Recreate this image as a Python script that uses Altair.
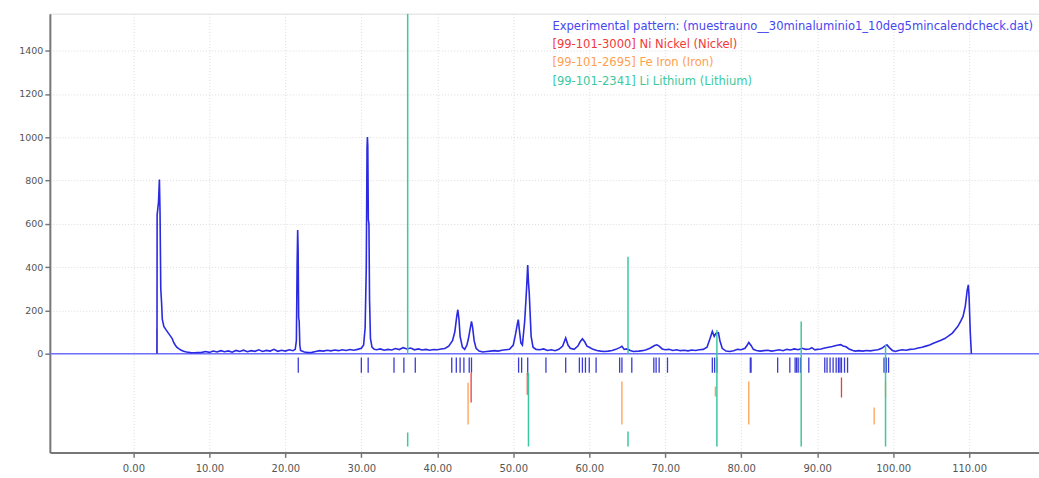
import altair as alt
import pandas as pd

# ---------------- data ----------------
PATTERN_2THETA = [
    3.10, 3.12, 3.30, 3.42, 3.50, 3.60, 3.70, 3.80, 4.0, 4.3, 4.6, 4.9, 5.1, 5.3, 5.5, 5.7, 6.0, 6.3, 6.6, 7.0,
    7.5, 8.0, 8.5, 9.0, 9.5, 10.0, 10.5, 11.0, 11.5, 12.0, 12.5, 13.0, 13.5, 14.0, 14.5, 15.0, 15.5, 16.0, 16.5,
    17.0, 17.5, 18.0, 18.5, 19.0, 19.5, 20.0, 20.5, 21.0, 21.3,
    21.45, 21.55, 21.62, 21.68, 21.75, 21.82, 21.9, 22.0,
    22.5, 23.0, 23.5, 24.0, 24.5, 25.0, 25.5, 26.0, 26.5, 27.0, 27.5, 28.0, 28.5, 29.0, 29.5, 30.0,
    30.3, 30.5, 30.65, 30.75, 30.8, 30.85, 30.92, 31.0, 31.08, 31.2, 31.4, 31.7,
    32.0, 32.5, 33.0, 33.5, 34.0, 34.5, 35.0, 35.5, 36.0, 36.5, 37.0, 37.5, 38.0, 38.5, 39.0, 39.5, 40.0,
    40.5, 41.0, 41.5, 42.0,
    42.3, 42.55, 42.7, 42.85, 43.0, 43.3, 43.6, 43.9,
    44.1, 44.3, 44.5, 44.65, 44.85, 45.1, 45.5, 46.0, 46.5, 47.0, 47.5, 48.0, 48.5, 49.0, 49.5, 50.0,
    50.3, 50.55, 50.66, 50.8, 51.0, 51.2,
    51.5, 51.75, 51.9, 52.0, 52.1, 52.2, 52.35, 52.6, 53.0,
    53.5, 54.0, 54.5, 55.0, 55.5, 56.0, 56.5, 56.9, 57.2, 57.5, 58.0, 58.5, 58.8, 59.1, 59.4, 59.7, 60.0,
    60.5, 61.0, 61.5, 62.0, 62.5, 63.0, 63.5, 64.0, 64.3, 64.6, 65.0, 65.4, 65.8, 66.5, 67.0, 67.5, 68.0,
    68.6, 68.9, 69.2, 69.6, 70.0, 70.5, 71.0, 71.5, 72.0, 72.5, 73.0, 73.5, 74.0, 74.5, 75.0, 75.5, 75.9,
    76.2, 76.45, 76.7, 77.0, 77.2, 77.5, 78.0, 78.5, 79.0, 79.5, 80.0, 80.5, 80.8, 81.0, 81.3, 81.6, 82.0,
    82.5, 83.0, 83.5, 84.0, 84.5, 85.0, 85.5, 86.0, 86.5, 87.0, 87.5, 88.0, 88.5, 89.0, 89.3, 89.7, 90.0,
    90.5, 91.0, 91.5, 92.0, 92.5, 92.8, 93.1, 93.4, 93.8, 94.2, 94.7, 95.0, 95.5, 96.0, 96.5, 97.0, 97.5,
    98.0, 98.5, 99.0, 99.2, 99.5, 99.9, 100.3, 100.7, 101.2, 101.7, 102.2, 102.8, 103.3, 103.8, 104.3,
    104.8, 105.3, 105.8, 106.3, 106.8, 107.3, 107.8, 108.1, 108.5, 108.9, 109.2, 109.5, 109.75, 109.9,
    110.0, 110.15, 110.3,
]
PATTERN_COUNTS = [
    0, 640, 700, 805, 660, 300, 240, 160, 126, 110, 95, 80, 70, 52, 40, 30, 22, 16, 11, 8,
    5, 4, 5, 6, 10, 6, 12, 8, 14, 9, 13, 7, 15, 10, 16, 9, 14, 11, 18,
    10, 15, 12, 20, 11, 16, 12, 18, 14, 20,
    60, 420, 571, 480, 165, 150, 40, 15,
    8, 5, 6, 10, 14, 12, 16, 13, 17, 14, 18, 15, 19, 16, 20, 25,
    40, 120, 400, 950, 1001, 960, 620, 600, 250, 70, 30, 20,
    18, 22, 16, 20, 17, 24, 19, 28, 22, 26, 18, 22, 17, 20, 16, 19, 18,
    22, 24, 35, 60,
    100, 170, 203, 160, 80, 30, 20, 40,
    70, 110, 149, 120, 60, 25, 12, 8, 10, 12, 14, 12, 16, 18, 20, 40,
    90, 140, 157, 110, 50, 40,
    150, 300, 410, 330, 281, 200, 80, 30, 20,
    18, 22, 15, 18, 14, 20, 35, 73, 40, 25, 20, 35, 55, 69, 55, 35, 30,
    20, 15, 12, 10, 12, 15, 20, 28, 34, 20, 22, 15, 10, 12, 14, 18, 25,
    38, 41, 35, 22, 18, 20, 15, 18, 14, 16, 13, 17, 15, 18, 20, 30, 70,
    103, 80, 95, 97, 60, 25, 12, 10, 14, 20, 18, 25, 40, 52, 38, 20, 15,
    12, 14, 16, 12, 15, 18, 14, 20, 17, 22, 18, 25, 20, 22, 28, 18, 20,
    22, 26, 30, 33, 38, 40, 42, 36, 32, 22, 15, 12, 14, 12, 15, 13, 16,
    18, 25, 38, 40, 28, 15, 10, 15, 18, 16, 20, 22, 26, 30, 35,
    40, 48, 55, 62, 70, 82, 95, 108, 125, 150, 172, 220, 294, 318,
    260, 100, 0,
]

# peak-position markers (blue row under the zero line)
MARKER_2THETA = [
    21.7, 30.0, 30.9, 34.3, 35.6, 37.1, 41.9, 42.5, 43.0, 43.5, 44.2, 44.5, 50.7, 51.1, 51.9, 54.3,
    56.9, 58.7, 59.1, 59.5, 60.0, 60.9, 64.0, 64.3, 65.6, 68.5, 68.8, 69.2, 70.3, 76.2, 76.5, 76.8,
    81.2, 81.3, 84.8, 86.4, 87.1, 87.3, 87.5, 87.8, 88.9, 91.0, 91.3, 91.7, 92.1, 92.5, 92.8, 93.0,
    93.2, 93.6, 94.0, 98.8, 99.1, 99.4,
]
MARKER_TOP, MARKER_BOTTOM = -18, -88

# Ni sticks (red)
NI_2THETA = [44.45, 51.85, 93.2]
NI_TOP = [-88, -88, -110]
NI_BOTTOM = [-226, -190, -203]

# Fe sticks (orange)
FE_2THETA = [44.05, 51.95, 64.3, 76.6, 81.0, 97.5, 99.0]
FE_TOP = [-134, -100, -129, -152, -129, -249, -129]
FE_BOTTOM = [-327, -190, -327, -198, -327, -327, -203]

# Li sticks (green)
LI_2THETA = [36.1, 36.1, 52.0, 65.1, 65.1, 76.8, 87.9, 99.0]
LI_TOP = [1571, -364, -88, 448, -360, 110, 149, 40]
LI_BOTTOM = [0, -429, -429, 0, -429, -429, -429, -429]

X_TICKS = [0, 10, 20, 30, 40, 50, 60, 70, 80, 90, 100, 110]
Y_TICKS = [0, 200, 400, 600, 800, 1000, 1200, 1400]

LEGEND_LABELS = [
    "Experimental pattern: (muestrauno__30minaluminio1_10deg5mincalendcheck.dat)",
    "[99-101-3000] Ni Nickel (Nickel)",
    "[99-101-2695] Fe Iron (Iron)",
    "[99-101-2341] Li Lithium (Lithium)",
]
LEGEND_COLORS = ["#4646f0", "#f03a3a", "#ffa050", "#3cc8a0"]

# ---------------- chart ----------------
FONT = "DejaVu Sans"
xs = alt.Scale(domain=[-11, 119.2], nice=False, zero=False)
ys = alt.Scale(domain=[-456, 1571], nice=False, zero=False)

pattern_df = pd.DataFrame({"t": PATTERN_2THETA, "c": PATTERN_COUNTS})
marker_df = pd.DataFrame({"t": MARKER_2THETA, "a": MARKER_TOP, "b": MARKER_BOTTOM})
ni_df = pd.DataFrame({"t": NI_2THETA, "a": NI_TOP, "b": NI_BOTTOM})
fe_df = pd.DataFrame({"t": FE_2THETA, "a": FE_TOP, "b": FE_BOTTOM})
li_df = pd.DataFrame({"t": LI_2THETA, "a": LI_TOP, "b": LI_BOTTOM})

xaxis = alt.Axis(values=X_TICKS, format=".2f", title=None, labelFont=FONT, labelFontSize=10,
                 labelColor="#555", tickColor="#777", tickSize=5, tickWidth=1.5,
                 domainColor="#777", domainWidth=2, grid=True, gridColor="#dcdcdc",
                 gridDash=[1, 2], labelPadding=6, labelFlush=False)
yaxis = alt.Axis(values=Y_TICKS, format="d", title=None, labelFont=FONT, labelFontSize=9.5,
                 labelColor="#555", tickColor="#777", tickSize=5, tickWidth=1.5,
                 domainColor="#777", domainWidth=2, grid=True, gridColor="#dcdcdc",
                 gridDash=[1, 2], labelPadding=2)

base_axes = alt.Chart(pattern_df).mark_line(opacity=0).encode(
    x=alt.X("t:Q", scale=xs, axis=xaxis),
    y=alt.Y("c:Q", scale=ys, axis=yaxis),
)

zero_line = alt.Chart(pd.DataFrame({"v": [0]})).mark_rule(color="#7070ff", strokeWidth=1.6).encode(
    y=alt.Y("v:Q", scale=ys)
)

def sticks(df, color, width):
    return alt.Chart(df).mark_rule(color=color, strokeWidth=width, clip=True).encode(
        x=alt.X("t:Q", scale=xs),
        y=alt.Y("a:Q", scale=ys),
        y2="b:Q",
    )

markers = sticks(marker_df, "#3a3ad6", 1.3)
ni = sticks(ni_df, "#f03a3a", 1.3)
fe = sticks(fe_df, "#ffa050", 1.3)
li = sticks(li_df, "#3cc8a0", 1.5)

start_rule = alt.Chart(pd.DataFrame({"t": [3.08], "a": [0], "b": [115]})).mark_rule(
    color="#999", strokeWidth=1.2).encode(x=alt.X("t:Q", scale=xs), y=alt.Y("a:Q", scale=ys), y2="b:Q")

pattern = alt.Chart(pattern_df).mark_line(color="#2a2ae0", strokeWidth=1.6).encode(
    x=alt.X("t:Q", scale=xs),
    y=alt.Y("c:Q", scale=ys),
    order="t:Q",
)

legend_layers = []
for i, (lab, col) in enumerate(zip(LEGEND_LABELS, LEGEND_COLORS)):
    legend_layers.append(
        alt.Chart(pd.DataFrame({"s": [lab]})).mark_text(
            align="left", baseline="middle", font=FONT, fontSize=11.6, color=col
        ).encode(text="s:N", x=alt.value(504), y=alt.value(13 + 18.5 * i))
    )

chart = alt.layer(
    base_axes, zero_line, start_rule, markers, pattern, ni, fe, li, *legend_layers
).properties(
    width=992, height=440,
    autosize=alt.AutoSizeParams(type="none"),
    padding={"left": 50, "top": 13, "right": 0, "bottom": 25},
).configure_view(stroke="#777", strokeWidth=2).configure(background="white")

chart.save("out.html", embed_options={"renderer": "svg", "actions": False})
